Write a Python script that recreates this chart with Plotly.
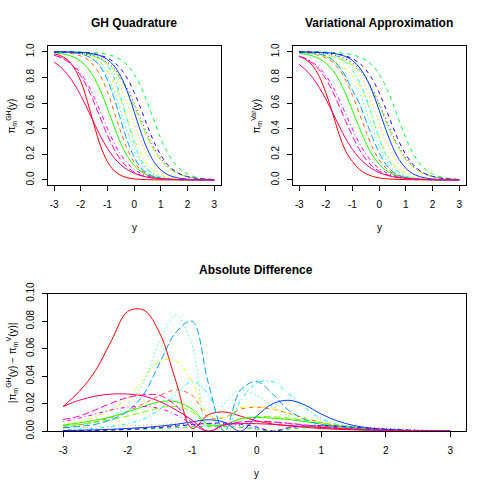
import plotly.graph_objects as go

# ---------------- data ----------------
y_grid = [-3.0, -2.75, -2.5, -2.25, -2.0, -1.75, -1.5, -1.25, -1.0, -0.75, -0.5, -0.25,
          0.0, 0.25, 0.5, 0.75, 1.0, 1.25, 1.5, 1.75, 2.0, 2.25, 2.5, 2.75, 3.0]

x_ticks = [-3, -2, -1, 0, 1, 2, 3]
x_tick_text = ["-3", "-2", "-1", "0", "1", "2", "3"]
top_y_ticks = [0.0, 0.2, 0.4, 0.6, 0.8, 1.0]
top_y_text = ["0.0", "0.2", "0.4", "0.6", "0.8", "1.0"]
bot_y_ticks = [0.0, 0.02, 0.04, 0.06, 0.08, 0.10]
bot_y_text = ["0.00", "0.02", "0.04", "0.06", "0.08", "0.10"]

# GH quadrature curves pi_m^GH(y), one per m
gh_01 = [0.985, 0.969, 0.937, 0.875, 0.769, 0.611, 0.426, 0.259, 0.142, 0.072, 0.036, 0.017, 0.008, 0.004, 0.002, 0.001, 0.0004, 0.0002, 0.0001, 0, 0, 0, 0, 0, 0]
gh_02 = [0.9975, 0.995, 0.991, 0.982, 0.967, 0.939, 0.889, 0.807, 0.686, 0.532, 0.373, 0.237, 0.139, 0.078, 0.042, 0.023, 0.012, 0.006, 0.003, 0.0017, 0.0009, 0.0005, 0.0002, 0.0001, 0.0001]
gh_03 = [0.9991, 0.9983, 0.9969, 0.9943, 0.9896, 0.981, 0.966, 0.940, 0.897, 0.826, 0.723, 0.589, 0.440, 0.301, 0.192, 0.115, 0.067, 0.038, 0.021, 0.012, 0.0064, 0.0035, 0.0019, 0.001, 0.0006]
gh_04 = [0.9988, 0.9978, 0.9959, 0.9924, 0.986, 0.974, 0.953, 0.915, 0.852, 0.755, 0.622, 0.469, 0.321, 0.202, 0.119, 0.068, 0.037, 0.020, 0.011, 0.006, 0.003, 0.0018, 0.001, 0.0005, 0.0003]
gh_05 = [0.9982, 0.997, 0.995, 0.9918, 0.9866, 0.978, 0.964, 0.943, 0.909, 0.858, 0.786, 0.690, 0.574, 0.450, 0.332, 0.231, 0.154, 0.100, 0.063, 0.039, 0.024, 0.015, 0.009, 0.0055, 0.0033]
gh_06 = [0.992, 0.986, 0.975, 0.957, 0.926, 0.876, 0.799, 0.691, 0.557, 0.415, 0.285, 0.183, 0.112, 0.066, 0.038, 0.022, 0.012, 0.007, 0.004, 0.0023, 0.0013, 0.0007, 0.0004, 0.0002, 0.0001]
gh_07 = [0.9998, 0.9996, 0.9993, 0.9988, 0.9979, 0.9963, 0.9934, 0.9883, 0.979, 0.964, 0.938, 0.895, 0.826, 0.729, 0.601, 0.460, 0.323, 0.212, 0.131, 0.079, 0.046, 0.026, 0.015, 0.0085, 0.0048]
gh_08 = [0.9987, 0.9975, 0.995, 0.991, 0.982, 0.967, 0.939, 0.889, 0.807, 0.686, 0.532, 0.373, 0.237, 0.139, 0.078, 0.042, 0.023, 0.012, 0.006, 0.003, 0.0017, 0.0009, 0.0005, 0.0002, 0.0001]
gh_09 = [0.9997, 0.9994, 0.9986, 0.997, 0.994, 0.987, 0.973, 0.945, 0.891, 0.794, 0.646, 0.463, 0.289, 0.161, 0.083, 0.041, 0.020, 0.0095, 0.0045, 0.0021, 0.001, 0.0005, 0.0002, 0.0001, 0]
gh_10 = [0.999, 0.998, 0.996, 0.991, 0.983, 0.966, 0.935, 0.877, 0.779, 0.636, 0.465, 0.301, 0.177, 0.096, 0.050, 0.026, 0.013, 0.006, 0.003, 0.0016, 0.0008, 0.0004, 0.0002, 0.0001, 0]
gh_11 = [0.9996, 0.9993, 0.9987, 0.9975, 0.995, 0.991, 0.982, 0.967, 0.939, 0.889, 0.807, 0.686, 0.532, 0.373, 0.237, 0.139, 0.078, 0.042, 0.023, 0.012, 0.006, 0.003, 0.0017, 0.0009, 0.0005]
gh_12 = [0.9994, 0.9989, 0.9981, 0.9967, 0.9944, 0.990, 0.983, 0.971, 0.951, 0.918, 0.866, 0.789, 0.684, 0.555, 0.418, 0.293, 0.193, 0.121, 0.074, 0.044, 0.026, 0.015, 0.0088, 0.005, 0.003]
gh_13 = [0.9983, 0.9973, 0.9955, 0.9926, 0.988, 0.980, 0.968, 0.948, 0.917, 0.870, 0.802, 0.711, 0.599, 0.475, 0.354, 0.250, 0.168, 0.109, 0.069, 0.043, 0.027, 0.016, 0.010, 0.006, 0.0037]
gh_14 = [0.973, 0.957, 0.931, 0.891, 0.832, 0.750, 0.646, 0.525, 0.401, 0.289, 0.198, 0.130, 0.083, 0.052, 0.032, 0.020, 0.012, 0.007, 0.0045, 0.0027, 0.0017, 0.001, 0.0006, 0.0004, 0.0002]
gh_15 = [0.973, 0.955, 0.926, 0.880, 0.813, 0.720, 0.603, 0.474, 0.348, 0.240, 0.157, 0.099, 0.061, 0.037, 0.022, 0.013, 0.008, 0.005, 0.003, 0.0017, 0.001, 0.0006, 0.0004, 0.0002, 0.0001]
gh_16 = [0.920, 0.880, 0.825, 0.750, 0.659, 0.553, 0.443, 0.336, 0.246, 0.172, 0.118, 0.079, 0.052, 0.034, 0.022, 0.014, 0.009, 0.006, 0.004, 0.0025, 0.0016, 0.001, 0.0006, 0.0004, 0.0003]

# signed difference pi^GH - pi^Var, one per m
diff_01 = [0.018, 0.029, 0.044, 0.066, 0.087, 0.088, 0.071, 0.036, -0.002, -0.012, -0.014, -0.011, -0.0075, -0.0052, -0.0038, -0.0028, -0.002, -0.0014, -0.001, -0.0007, -0.0004, -0.0002, -0.0001, -0.00005, 0]
diff_02 = [0.003, 0.0045, 0.007, 0.010, 0.0145, 0.020, 0.026, 0.030, 0.026, 0.010, -0.010, -0.016, -0.0175, -0.016, -0.013, -0.0095, -0.0065, -0.004, -0.0025, -0.0015, -0.0009, -0.0005, -0.0003, -0.0001, 0]
diff_03 = [0.002, 0.0025, 0.003, 0.0035, 0.004, 0.0045, 0.005, 0.0055, 0.0055, 0.004, 0.0015, -0.002, -0.006, -0.0085, -0.009, -0.008, -0.0065, -0.005, -0.0035, -0.0023, -0.0014, -0.0008, -0.0004, -0.0002, -0.0001]
diff_04 = [0.005, 0.007, 0.0105, 0.016, 0.024, 0.038, 0.051, 0.051, 0.036, 0.012, -0.010, -0.017, -0.018, -0.016, -0.013, -0.0095, -0.0065, -0.004, -0.0025, -0.0015, -0.0009, -0.0005, -0.0003, -0.0001, 0]
diff_05 = [0.004, 0.005, 0.0065, 0.0085, 0.011, 0.014, 0.017, 0.018, 0.014, 0.004, -0.005, -0.009, -0.0105, -0.0105, -0.0095, -0.008, -0.006, -0.0045, -0.003, -0.002, -0.0012, -0.0007, -0.0004, -0.0002, -0.0001]
diff_06 = [0.0045, 0.006, 0.008, 0.0105, 0.014, 0.018, 0.0215, 0.0215, 0.016, 0.005, -0.005, -0.009, -0.010, -0.0095, -0.0085, -0.007, -0.0052, -0.0037, -0.0025, -0.0016, -0.001, -0.0006, -0.0003, -0.0002, -0.0001]
diff_07 = [0.0003, 0.0004, 0.0006, 0.0008, 0.0011, 0.0015, 0.002, 0.0026, 0.0032, 0.0036, 0.0035, 0.0028, 0.0015, 0.0, -0.0015, -0.0025, -0.003, -0.003, -0.0025, -0.002, -0.0014, -0.001, -0.0006, -0.0003, -0.0002]
diff_08 = [0.0025, 0.004, 0.0065, 0.011, 0.019, 0.036, 0.066, 0.084, 0.062, 0.0, -0.020, -0.030, -0.026, -0.018, -0.011, -0.0065, -0.004, -0.0024, -0.0014, -0.0008, -0.0005, -0.0003, -0.0002, -0.0001, 0]
diff_09 = [0.001, 0.0015, 0.002, 0.0035, 0.0055, 0.009, 0.016, 0.027, 0.036, 0.027, 0.0, -0.022, -0.035, -0.036, -0.027, -0.017, -0.009, -0.005, -0.0025, -0.0013, -0.0007, -0.0004, -0.0002, -0.0001, 0]
diff_10 = [0.0025, 0.0035, 0.005, 0.0085, 0.0145, 0.027, 0.050, 0.072, 0.080, 0.035, 0.0, -0.030, -0.036, -0.027, -0.015, -0.0085, -0.0048, -0.0028, -0.0016, -0.0009, -0.0005, -0.0003, -0.0002, -0.0001, 0]
diff_11 = [0.0005, 0.0007, 0.001, 0.0014, 0.002, 0.0027, 0.0037, 0.005, 0.0068, 0.0083, 0.0065, 0.0, -0.011, -0.020, -0.0225, -0.019, -0.0125, -0.0075, -0.0042, -0.0023, -0.0013, -0.0007, -0.0004, -0.0002, -0.0001]
diff_12 = [0.0003, 0.0004, 0.0006, 0.0009, 0.0013, 0.0019, 0.0027, 0.0037, 0.0048, 0.0057, 0.006, 0.0052, 0.003, 0.0, -0.0025, -0.0038, -0.004, -0.0036, -0.0029, -0.0021, -0.0015, -0.001, -0.0006, -0.0004, -0.0002]
diff_13 = [0.0004, 0.0006, 0.0009, 0.0013, 0.0018, 0.0025, 0.0033, 0.0042, 0.005, 0.0055, 0.0052, 0.004, 0.002, -0.0005, -0.0025, -0.0037, -0.0042, -0.004, -0.0034, -0.0027, -0.002, -0.0014, -0.0009, -0.0006, -0.0004]
diff_14 = [0.007, 0.0095, 0.0125, 0.0155, 0.0175, 0.018, 0.0165, 0.012, 0.005, 0.0, -0.0045, -0.0065, -0.007, -0.0065, -0.0055, -0.0043, -0.0032, -0.0023, -0.0016, -0.0011, -0.0007, -0.0004, -0.0003, -0.0002, -0.0001]
diff_15 = [0.0085, 0.011, 0.0155, 0.0205, 0.0245, 0.0265, 0.026, 0.0185, 0.006, 0.0, -0.005, -0.0068, -0.0072, -0.0068, -0.0058, -0.0046, -0.0034, -0.0024, -0.0017, -0.0011, -0.0007, -0.0004, -0.0003, -0.0002, -0.0001]
diff_16 = [0.018, 0.0225, 0.0255, 0.027, 0.027, 0.0255, 0.0215, 0.0155, 0.008, 0.0, -0.0045, -0.0055, -0.0055, -0.005, -0.0042, -0.0034, -0.0027, -0.002, -0.0015, -0.001, -0.0007, -0.0005, -0.0003, -0.0002, -0.0001]

line_colors = ["#FF0000", "#FF6000", "#FFBF00", "#DFFF00", "#80FF00", "#20FF00", "#00FF40", "#00FF9F",
               "#00FFFF", "#009FFF", "#0040FF", "#2000FF", "#8000FF", "#DF00FF", "#FF00BF", "#FF0060"]
line_dashes = ["solid", "4px,4px", "1px,3px", "1px,3px,4px,3px", "7px,3px"]

gh_curves = [gh_01, gh_02, gh_03, gh_04, gh_05, gh_06, gh_07, gh_08,
             gh_09, gh_10, gh_11, gh_12, gh_13, gh_14, gh_15, gh_16]
diff_curves = [diff_01, diff_02, diff_03, diff_04, diff_05, diff_06, diff_07, diff_08,
               diff_09, diff_10, diff_11, diff_12, diff_13, diff_14, diff_15, diff_16]

# ---------------- figure ----------------
fig = go.Figure()
for i, (gh, d) in enumerate(zip(gh_curves, diff_curves)):
    line = dict(color=line_colors[i], width=1, dash=line_dashes[i % 5], shape="spline")
    var = [g - v for g, v in zip(gh, d)]
    absd = [abs(v) for v in d]
    fig.add_trace(go.Scatter(x=y_grid, y=gh, mode="lines", line=line, xaxis="x", yaxis="y", showlegend=False))
    fig.add_trace(go.Scatter(x=y_grid, y=var, mode="lines", line=line, xaxis="x2", yaxis="y2", showlegend=False))
    fig.add_trace(go.Scatter(x=y_grid, y=absd, mode="lines", line=line, xaxis="x3", yaxis="y3", showlegend=False))

FONT = "Liberation Sans, Arial, Helvetica, sans-serif"
tick_font = dict(family=FONT, size=10, color="#000000")


def py(v):
    # vertical pixel position -> paper fraction
    return 1 - ((v - 12.6) / 0.955) / 490


def xax(domain, anchor):
    return dict(domain=domain, anchor=anchor, range=[-3.24, 3.24], tickvals=x_ticks, ticktext=x_tick_text,
                showline=True, mirror=True, linecolor="#000000", linewidth=1, ticks="outside",
                ticklen=5, tickwidth=1, tickcolor="#000000", showgrid=False, zeroline=False,
                tickfont=tick_font, ticklabelstandoff=5)


def yax(domain, anchor, rng, tv, tt):
    return dict(domain=domain, anchor=anchor, range=rng, tickvals=tv, ticktext=tt,
                showline=True, mirror=True, linecolor="#000000", linewidth=1, ticks="outside",
                ticklen=5, tickwidth=1, tickcolor="#000000", showgrid=False, zeroline=False,
                tickfont=tick_font, tickangle=-90, ticklabelstandoff=4)


top_dom = [py(185.3), py(46.7)]
bot_dom = [py(430), py(293)]
fig.update_layout(
    width=490, height=490, autosize=False,
    margin=dict(l=0, r=0, t=0, b=0),
    paper_bgcolor="white", plot_bgcolor="white",
    font=dict(family=FONT, size=10, color="#000000"),
    xaxis=xax([0.0973, 0.4504], "y"),
    yaxis=yax(top_dom, "x", [-0.043, 1.043], top_y_ticks, top_y_text),
    xaxis2=xax([0.5973, 0.9504], "y2"),
    yaxis2=yax(top_dom, "x2", [-0.043, 1.043], top_y_ticks, top_y_text),
    xaxis3=xax([0.0973, 0.9504], "y3"),
    yaxis3=yax(bot_dom, "x3", [0, 0.1], bot_y_ticks, bot_y_text),
)

title_font = dict(family=FONT, size=12, color="#000000")
lab_font = dict(family=FONT, size=10, color="#000000")
ann = [
    dict(text="<b>GH Quadrature</b>", x=0.2739, y=py(23.5), font=title_font),
    dict(text="<b>Variational Approximation</b>", x=0.7739, y=py(23.5), font=title_font),
    dict(text="<b>Absolute Difference</b>", x=0.5234, y=py(269), font=title_font),
    dict(text="y", x=0.2739, y=py(227), font=lab_font),
    dict(text="y", x=0.7739, y=py(227), font=lab_font),
    dict(text="y", x=0.5234, y=py(472), font=lab_font),
    dict(text="π<sub>m</sub><sup>GH</sup>(y)", x=0.024, y=py(116), textangle=-90, font=lab_font),
    dict(text="π<sub>m</sub><sup>Var</sup>(y)", x=0.524, y=py(116), textangle=-90, font=lab_font),
    dict(text="|π<sub>m</sub><sup>GH</sup>(y) − π<sub>m</sub><sup>V</sup>(y)|", x=0.024, y=py(361.5),
         textangle=-90, font=lab_font),
]
for a in ann:
    a.update(xref="paper", yref="paper", showarrow=False, xanchor="center", yanchor="middle")
    fig.add_annotation(**a)

fig.write_html("out.html", config={"displayModeBar": False},
               post_script="document.body.style.margin='0';document.body.style.overflow='hidden';")
